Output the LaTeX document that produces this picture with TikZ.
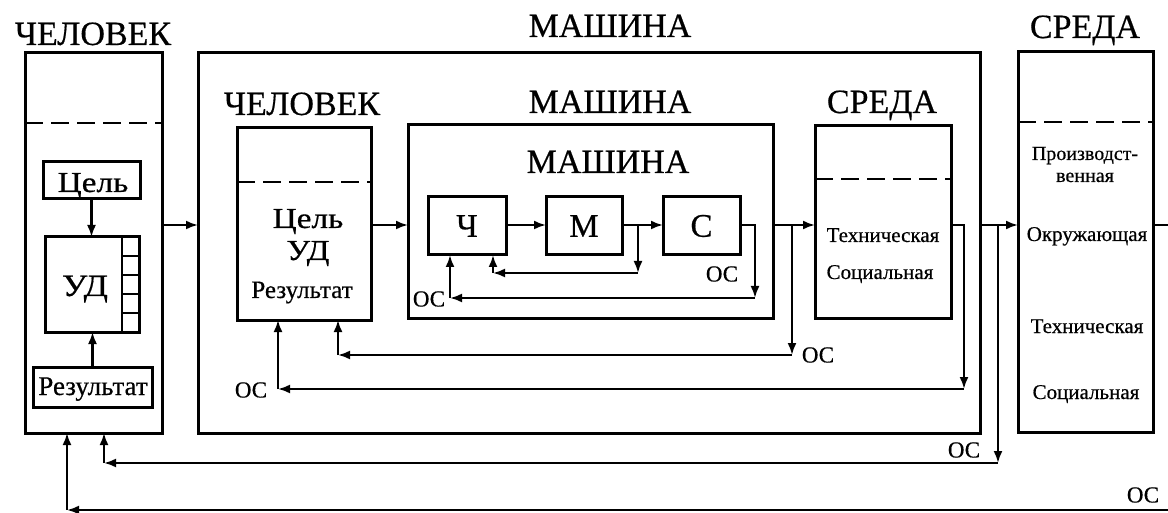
\documentclass[tikz,border=0pt]{standalone}
\usepackage{fontspec}
\setmainfont{Liberation Serif}[FakeBold=0.5]
\newfontfamily\widefont{Liberation Serif}[FakeStretch=1.15,FakeBold=0.5]
\usetikzlibrary{arrows.meta}
\begin{document}
\begin{tikzpicture}[x=1pt,y=-1pt,
  box/.style={draw, line width=3pt, inner sep=0pt, outer sep=0pt, rectangle},
  conn/.style={line width=2.2pt, -{Latex[length=12pt,width=9pt]}},
  ln/.style={line width=2.2pt},
  dsh/.style={line width=2.6pt, dash pattern=on 18pt off 8pt},
  ttl/.style={font=\fontsize{34}{34}\selectfont, anchor=base, inner sep=0pt},
  big/.style={font=\widefont\fontsize{29}{29}\selectfont, anchor=base, inner sep=0pt},
  res/.style={font=\fontsize{#1}{#1}\selectfont, anchor=base, inner sep=0pt},
  sm/.style={font=\fontsize{21}{21}\selectfont, anchor=base, inner sep=0pt},
  oc/.style={font=\fontsize{23}{23}\selectfont, inner sep=0pt},
  let/.style={font=\fontsize{33}{33}\selectfont}
]
\useasboundingbox (0,0) rectangle (1168,513);
% ---------- boxes ----------
\node[box, minimum width=137pt, minimum height=380pt] (H) at (93.5,243) {};
\node[box, minimum width=97pt, minimum height=37pt] (G1) at (91.5,180.5) {};
\node[box, minimum width=94pt, minimum height=95pt] (U1) at (92,284.5) {};
\node[box, minimum width=119pt, minimum height=40pt] (R1) at (92.5,387) {};
\node[box, minimum width=782pt, minimum height=380pt] (M) at (589,243) {};
\node[box, minimum width=134pt, minimum height=192pt] (H2) at (304,224) {};
\node[box, minimum width=365pt, minimum height=193pt] (M2) at (590.5,221.5) {};
\node[box, let, minimum width=78pt, minimum height=58pt] (Ch) at (467,226) {Ч};
\node[box, let, minimum width=76pt, minimum height=58pt] (Mm) at (584,226) {М};
\node[box, let, minimum width=77pt, minimum height=58pt] (Cc) at (701.5,226) {С};
\node[box, minimum width=136pt, minimum height=192pt] (S2) at (883,222) {};
\node[box, minimum width=135pt, minimum height=380pt] (S) at (1085.5,242) {};
% ---------- dashed separators ----------
\coordinate (d1) at (0,123);
\coordinate (d2) at (0,182);
\coordinate (d3) at (0,179);
\coordinate (d4) at (0,122);
\draw[dsh] (H.west |- d1) -- (H.east |- d1);
\draw[dsh] (H2.west |- d2) -- (H2.east |- d2);
\draw[dsh] (S2.west |- d3) -- (S2.east |- d3);
\draw[dsh] (S.west |- d4) -- (S.east |- d4);
% ---------- UD slots ----------
\draw[line width=2.6pt] (122,237) -- (122,332);
\foreach \yy in {256,275,294,313} \draw[line width=2.4pt] (122,\yy) -- (139,\yy);
% ---------- titles ----------
\node[ttl] (tH) at (93,45) {ЧЕЛОВЕК};
\node[ttl] (tM) at (610,37) {МАШИНА};
\node[ttl] (tS) at (1085,38) {СРЕДА};
\node[ttl] (tH2) at (302,115) {ЧЕЛОВЕК};
\node[ttl] (tM2) at (610,113) {МАШИНА};
\node[ttl] (tS2) at (882,113) {СРЕДА};
\node[ttl] (tM3) at (608,173) {МАШИНА};
% ---------- texts ----------
\node[big] (g1t) at (93,192) {Цель};
\node[big, font=\widefont\fontsize{31}{31}\selectfont] (u1t) at (85,296) {УД};
\node[res=27] (r1t) at (93,395) {Результат};
\node[big] (g2t) at (308,228) {Цель};
\node[big] (u2t) at (308,260) {УД};
\node[res=25] (r2t) at (302,298) {Результат};
\node[sm] (s2a) at (883,242) {Техническая};
\node[sm] (s2b) at (880,279) {Социальная};
\node[res=20] (sa) at (1085,160) {Производст-};
\node[res=20] (sb) at (1085,182) {венная};
\node[sm] (sc) at (1087,241) {Окружающая};
\node[sm] (sd) at (1087,333) {Техническая};
\node[sm] (se) at (1086,399) {Социальная};
% ---------- main flow ----------
\coordinate (r) at (0,225);
\draw[conn] (G1.south) -- (G1.south |- U1.north);
\draw[conn] (R1.north) -- (R1.north |- U1.south);
\draw[conn] (H.east |- r) -- (M.west |- r);
\draw[conn] (H2.east |- r) -- (M2.west |- r);
\draw[conn] (Ch.east |- r) -- (Mm.west |- r);
\draw[conn] (Mm.east |- r) -- (Cc.west |- r);
\draw[conn] (M2.east |- r) -- (S2.west |- r);
\draw[conn] (M.east |- r) -- (S.west |- r);
\coordinate (rend) at (1168,225);
\draw[ln] (S.east |- r) -- (rend);
% ---------- feedback M -> Ch ----------
\coordinate (j1) at (638,225);
\coordinate (k1) at (638,273);
\coordinate (l1) at (493,273);
\draw[conn] (j1) -- (k1);
\draw[conn] (k1) -- (l1);
\draw[conn] (l1) -- (l1 |- Ch.south);
% ---------- feedback C -> Ch ----------
\coordinate (j2) at (755,225);
\coordinate (k2) at (755,298);
\coordinate (l2) at (450,298);
\draw[conn] (Cc.east |- r) -- (j2) -- (k2);
\draw[conn] (k2) -- (l2);
\draw[conn] (l2) -- (l2 |- Ch.south);
\node[oc] (oc1) at (722,274) {ОС};
\node[oc] (oc2) at (429,299) {ОС};
% ---------- feedback M2 -> H2 ----------
\coordinate (j3) at (792,225);
\coordinate (k3) at (792,355);
\coordinate (l3) at (338,355);
\draw[conn] (j3) -- (k3);
\draw[conn] (k3) -- (l3);
\draw[conn] (l3) -- (l3 |- H2.south);
\node[oc] (oc3) at (818,355) {ОС};
% ---------- feedback S2 -> H2 ----------
\coordinate (j4) at (964,225);
\coordinate (k4) at (964,389);
\coordinate (l4) at (278,389);
\draw[conn] (S2.east |- r) -- (j4) -- (k4);
\draw[conn] (k4) -- (l4);
\draw[conn] (l4) -- (l4 |- H2.south);
\node[oc] (oc4) at (251,390) {ОС};
% ---------- feedback M -> H ----------
\coordinate (j5) at (998,225);
\coordinate (k5) at (998,463);
\coordinate (l5) at (104,463);
\draw[conn] (j5) -- (k5);
\draw[conn] (k5) -- (l5);
\draw[conn] (l5) -- (l5 |- H.south);
\node[oc] (oc5) at (964,450) {ОС};
% ---------- feedback S -> H ----------
\coordinate (k6) at (1168,510);
\coordinate (l6) at (67,510);
\draw[conn] (k6) -- (l6);
\draw[conn] (l6) -- (l6 |- H.south);
\node[oc] (oc6) at (1143,495) {ОС};
\end{tikzpicture}
\end{document}
